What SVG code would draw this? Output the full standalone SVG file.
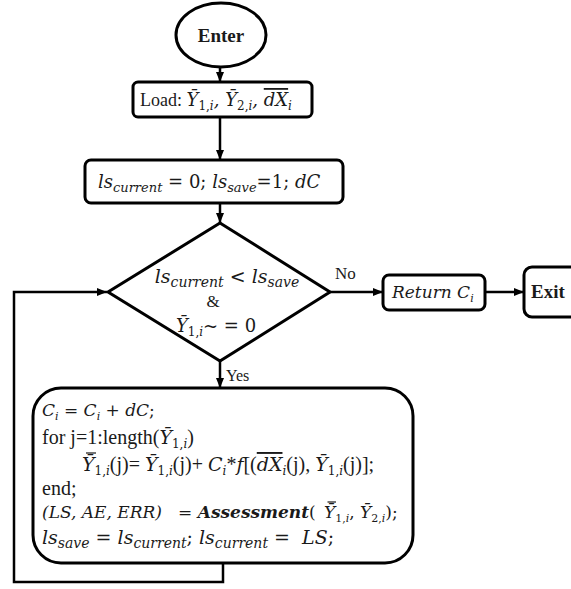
<svg xmlns="http://www.w3.org/2000/svg" width="571" height="589" viewBox="0 0 571 589">
  <style>
    .box { fill: #ffffff; stroke: #000000; stroke-width: 3; }
    .edge { fill: none; stroke: #000000; stroke-width: 2.5; }
    .bar { stroke: #1a1a1a; stroke-width: 1.2; }
    .t { font-family: "Liberation Serif", "Times New Roman", serif; fill: #1a1a1a; }
    .m { font-family: "DejaVu Serif", "Liberation Serif", serif; font-style: italic; fill: #1a1a1a; }
    .u { font-family: "DejaVu Serif", "Liberation Serif", serif; font-style: normal; fill: #1a1a1a; }
    .b { font-weight: bold; }
  </style>
  <defs>
    <marker id="arrow" viewBox="0 0 10 8" refX="10" refY="4" markerWidth="10" markerHeight="8" markerUnits="userSpaceOnUse" orient="auto">
      <path d="M0,0 L10,4 L0,8 Z" fill="#000000"/>
    </marker>
  </defs>

  <!-- connectors -->
  <g id="connectors">
    <line class="edge" x1="220" y1="67" x2="220" y2="82" marker-end="url(#arrow)"/>
    <line class="edge" x1="220" y1="117" x2="220" y2="160" marker-end="url(#arrow)"/>
    <line class="edge" x1="220" y1="203" x2="220" y2="223" marker-end="url(#arrow)"/>
    <line class="edge" x1="330" y1="292" x2="383" y2="292" marker-end="url(#arrow)"/>
    <line class="edge" x1="485" y1="292" x2="524" y2="292" marker-end="url(#arrow)"/>
    <line class="edge" x1="220" y1="361" x2="220" y2="388" marker-end="url(#arrow)"/>
    <path class="edge" d="M223,563 V582 H14 V292 H107" marker-end="url(#arrow)"/>
    <text class="t" x="335" y="279" font-size="17">No</text>
    <text class="t" x="226" y="381" font-size="16">Yes</text>
  </g>

  <!-- start -->
  <g id="enter">
    <ellipse class="box" cx="221" cy="35" rx="45" ry="32"/>
    <text class="t b" x="221" y="42" font-size="19" text-anchor="middle">Enter</text>
  </g>

  <!-- load inputs -->
  <g id="load">
    <rect class="box" x="133" y="82" width="179" height="35" rx="5"/>
    <text x="140" y="106" font-size="18"><tspan class="t">Load: </tspan><tspan class="m">Ȳ</tspan><tspan class="u" font-size="12" dy="4">1,</tspan><tspan class="m" font-size="12">i</tspan><tspan class="m" dy="-4">, Ȳ</tspan><tspan class="u" font-size="12" dy="4">2,</tspan><tspan class="m" font-size="12">i</tspan><tspan class="m" dy="-4">, </tspan><tspan class="m" text-decoration="overline">dX</tspan><tspan class="m" font-size="12" dy="4">i</tspan></text>
  </g>

  <!-- initialisation -->
  <g id="init">
    <rect class="box" x="85" y="160" width="258" height="43" rx="6"/>
    <text x="98" y="188" font-size="18"><tspan class="m">ls</tspan><tspan class="m" font-size="13" dy="4">current</tspan><tspan class="u" dy="-4"> = 0; </tspan><tspan class="m">ls</tspan><tspan class="m" font-size="13" dy="4">save</tspan><tspan class="u" dy="-4">=1; </tspan><tspan class="m">dC</tspan></text>
  </g>

  <!-- loop condition -->
  <g id="condition">
    <polygon class="box" points="220,223 330,292 220,361 108,292"/>
    <text x="227" y="283" font-size="19" text-anchor="middle"><tspan class="m">ls</tspan><tspan class="m" font-size="14" dy="4">current</tspan><tspan class="u" dy="-4"> &lt; </tspan><tspan class="m">ls</tspan><tspan class="m" font-size="14" dy="4">save</tspan></text>
    <text class="t" x="213" y="307" font-size="17" text-anchor="middle">&amp;</text>
    <text x="216" y="332" font-size="18" text-anchor="middle"><tspan class="m">Ȳ</tspan><tspan class="u" font-size="12" dy="4">1,</tspan><tspan class="m" font-size="12">i</tspan><tspan class="u" dy="-4">~ = 0</tspan></text>
  </g>

  <!-- result -->
  <g id="return">
    <rect class="box" x="383" y="275" width="102" height="35" rx="6"/>
    <text x="392" y="298" font-size="17"><tspan class="m">Return C</tspan><tspan class="m" font-size="11" dy="4">i</tspan></text>
  </g>

  <g id="exit">
    <rect class="box" x="524" y="267" width="60" height="50" rx="8"/>
    <text class="t b" x="531" y="298" font-size="19">Exit</text>
  </g>

  <!-- update step -->
  <g id="update">
    <rect class="box" x="33" y="388" width="380" height="175" rx="28"/>
    <text x="42" y="416" font-size="17"><tspan class="m">C</tspan><tspan class="m" font-size="11" dy="4">i</tspan><tspan class="u" dy="-4"> = </tspan><tspan class="m">C</tspan><tspan class="m" font-size="11" dy="4">i</tspan><tspan class="u" dy="-4"> + </tspan><tspan class="m">dC</tspan><tspan class="u">;</tspan></text>
    <text x="42" y="444" font-size="20"><tspan class="t">for j=1:length(</tspan><tspan class="m" font-size="19">Ȳ</tspan><tspan class="u" font-size="12" dy="4">1,</tspan><tspan class="m" font-size="12">i</tspan><tspan class="t" dy="-4">)</tspan></text>
    <text x="82" y="471" font-size="20"><tspan class="m" font-size="19">Ȳ</tspan><tspan class="u" font-size="12" dy="4">1,</tspan><tspan class="m" font-size="12">i</tspan><tspan class="t" dy="-4">(j)= </tspan><tspan class="m" font-size="19">Ȳ</tspan><tspan class="u" font-size="12" dy="4">1,</tspan><tspan class="m" font-size="12">i</tspan><tspan class="t" dy="-4">(j)+ </tspan><tspan class="m" font-size="19">C</tspan><tspan class="m" font-size="12" dy="4">i</tspan><tspan class="t" dy="-4">*</tspan><tspan class="m" font-size="19">f</tspan><tspan class="t">[(</tspan><tspan class="m" font-size="19" text-decoration="overline">dX</tspan><tspan class="m" font-size="12" dy="4">i</tspan><tspan class="t" dy="-4">(j), </tspan><tspan class="m" font-size="19">Ȳ</tspan><tspan class="u" font-size="12" dy="4">1,</tspan><tspan class="m" font-size="12">i</tspan><tspan class="t" dy="-4">(j)];</tspan></text>
    <!-- second bar of the double-barred Y -->
    <line class="bar" x1="86" y1="453" x2="96" y2="453"/>
    <text class="t" x="42" y="495" font-size="20">end;</text>
    <text x="42" y="518" font-size="17"><tspan class="m">(LS, AE, ERR)</tspan><tspan class="u" xml:space="preserve">   = </tspan><tspan class="m b">Assessment</tspan><tspan class="u">(</tspan><tspan class="m" x="324">Ȳ</tspan><tspan class="u" font-size="11" dy="4">1,</tspan><tspan class="m" font-size="11">i</tspan><tspan class="u" dy="-4">, </tspan><tspan class="m">Ȳ</tspan><tspan class="u" font-size="11" dy="4">2,</tspan><tspan class="m" font-size="11">i</tspan><tspan class="u" dy="-4">);</tspan></text>
    <line class="bar" x1="327.5" y1="502" x2="336" y2="502"/>
    <text x="42" y="544" font-size="19"><tspan class="m">ls</tspan><tspan class="m" font-size="14" dy="4">save</tspan><tspan class="u" dy="-4"> = </tspan><tspan class="m">ls</tspan><tspan class="m" font-size="14" dy="4">current</tspan><tspan class="u" dy="-4">; </tspan><tspan class="m">ls</tspan><tspan class="m" font-size="14" dy="4">current</tspan><tspan class="u" dy="-4" xml:space="preserve"> =  </tspan><tspan class="m">LS</tspan><tspan class="u">;</tspan></text>
  </g>
</svg>
